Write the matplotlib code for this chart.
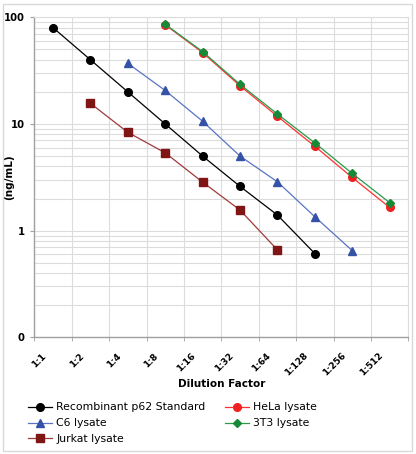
import matplotlib
matplotlib.use("Agg")
import matplotlib.pyplot as plt
import matplotlib.transforms as mtransforms
from matplotlib.ticker import FixedLocator, NullFormatter
import numpy as np

categories = ["1:1", "1:2", "1:4", "1:8", "1:16", "1:32", "1:64", "1:128", "1:256", "1:512"]

recomb_x = [0, 1, 2, 3, 4, 5, 6, 7]
recomb_y = [80, 40, 20, 10, 5, 2.6, 1.4, 0.61]

c6_x = [2, 3, 4, 5, 6, 7, 8]
c6_y = [37, 20.6, 10.6, 5.0, 2.87, 1.35, 0.65]

jurkat_x = [1, 2, 3, 4, 5, 6]
jurkat_y = [15.6, 8.35, 5.36, 2.85, 1.56, 0.66]

hela_x = [3, 4, 5, 6, 7, 8, 9]
hela_y = [85, 46.7, 22.8, 11.8, 6.18, 3.15, 1.65]

t3_x = [3, 4, 5, 6, 7, 8, 9]
t3_y = [86, 47.7, 23.5, 12.4, 6.64, 3.44, 1.83]

plt.rcParams['font.family'] = ['DejaVu Sans']

fig = plt.figure(figsize=(4.16, 4.54), dpi=100)
fig.patch.set_facecolor('white')
# outer border
fig.add_artist(plt.Rectangle((3/416, 3/454), 409/416, 447/454, transform=fig.transFigure,
                             fill=False, edgecolor='#d9d9d9', linewidth=1))

ax = fig.add_axes([34.3/416, 1 - 337.3/454, (408.3 - 34.3)/416, (337.3 - 17.3)/454])
ax.set_yscale('log')
ax.set_ylim(0.1, 100)
ax.set_xlim(-0.5, 9.5)

grid_c = '#dcdcdc'
ax.set_yticks([0.1, 1, 10, 100])
ax.set_yticklabels(["0", "1", "10", "100"], fontweight='bold', fontsize=7.2)
minors = [m * 10.0**e for e in (-1, 0, 1) for m in range(2, 10)]
ax.yaxis.set_minor_locator(FixedLocator(minors))
ax.yaxis.set_minor_formatter(NullFormatter())
ax.grid(True, which='major', axis='y', color=grid_c, linewidth=0.8)
ax.grid(True, which='minor', axis='y', color=grid_c, linewidth=0.8)

ax.set_xticks(np.arange(len(categories)))
ax.set_xticklabels(categories, rotation=45, ha='right', va='top', fontweight='bold', fontsize=6.5)
ax.xaxis.set_minor_locator(FixedLocator(np.arange(-0.5, 10, 1.0)))
ax.grid(True, which='minor', axis='x', color=grid_c, linewidth=0.8)
ax.tick_params(axis='x', which='major', length=0, pad=10)
ax.tick_params(axis='x', which='minor', length=3, color='#a0a0a0')
ax.tick_params(axis='y', which='major', length=3, color='#a0a0a0', pad=4)
ax.tick_params(axis='y', which='minor', length=0)
offset = mtransforms.ScaledTranslation(-5/100, 0, fig.dpi_scale_trans)
for lab in ax.get_xticklabels():
    lab.set_transform(lab.get_transform() + offset)

for s in ['top', 'right']:
    ax.spines[s].set_color(grid_c)
for s in ['left', 'bottom']:
    ax.spines[s].set_color('#a0a0a0')
    ax.spines[s].set_linewidth(1.0)
ax.set_axisbelow(True)

h1, = ax.plot(recomb_x, recomb_y, color='#000000', lw=0.9, marker='o', ms=5.5,
              mfc='#000000', mec='#000000', label='Recombinant p62 Standard')
h2, = ax.plot(c6_x, c6_y, color='#5a74c4', lw=0.9, marker='^', ms=6,
              mfc='#3552a6', mec='#3552a6', label='C6 lysate')
h3, = ax.plot(jurkat_x, jurkat_y, color='#a03a3a', lw=0.9, marker='s', ms=5.2,
              mfc='#7f1515', mec='#7f1515', label='Jurkat lysate')
h4, = ax.plot(hela_x, hela_y, color='#ff3030', lw=0.9, marker='o', ms=5.5,
              mfc='#f02020', mec='#f02020', label='HeLa lysate')
h5, = ax.plot(t3_x, t3_y, color='#2a9a4a', lw=0.9, marker='D', ms=4.5,
              mfc='#168a36', mec='#168a36', label='3T3 lysate')

ax.set_ylabel('(ng/mL)', fontweight='bold', fontsize=7.5)
ax.yaxis.set_label_coords((14 - 34.3) / 374, 0.5)
ax.set_xlabel('Dilution Factor', fontweight='bold', fontsize=7.5)
ax.xaxis.set_label_coords(0.5, -(384 - 337.3) / 320)
ax.xaxis.label.set_va('center')

leg = fig.legend(handles=[h1, h2, h3, h4, h5], ncol=2, loc='upper left',
                 bbox_to_anchor=(24/416, 1 - 398/454), frameon=False, fontsize=7.8,
                 handlelength=2.2, handletextpad=0.4, columnspacing=1.8,
                 labelspacing=0.55, borderaxespad=0)

fig.savefig('out.png', dpi=100, facecolor='white')
